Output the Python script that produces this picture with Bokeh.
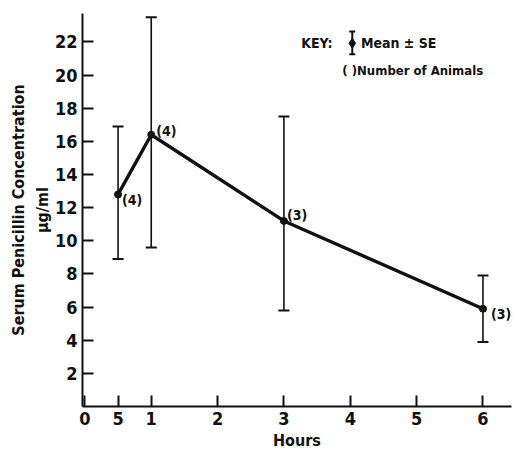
from bokeh.plotting import figure
from bokeh.models import ColumnDataSource, Whisker, FixedTicker, Label, Range1d, LinearAxis
from bokeh.core.properties import value
from bokeh.embed import file_html
from bokeh.resources import INLINE

# ---- data ----
hours = [0.5, 1, 3, 6]
mean = [12.8, 16.4, 11.2, 5.9]
upper = [16.9, 23.5, 17.5, 7.9]
lower = [8.9, 9.6, 5.8, 3.9]
n_animals = ["(4)", "(4)", "(3)", "(3)"]

x_ticks = [0, 0.5, 1, 2, 3, 4, 5, 6]
x_tick_labels = ["0", "5", "1", "2", "3", "4", "5", "6"]
y_ticks = [2, 4, 6, 8, 10, 12, 14, 16, 18, 20, 22]

FONT = "DejaVu Sans Condensed"
INK = "#111111"

p = figure(width=516, height=452, output_backend="svg", toolbar_location=None,
           x_range=Range1d(-0.036, 6.43), y_range=Range1d(0, 23.72),
           min_border_left=82, min_border_right=5, min_border_top=13,
           min_border_bottom=44)
p.outline_line_color = None
p.xgrid.visible = False
p.ygrid.visible = False
p.background_fill_color = "white"
p.border_fill_color = "white"

for ax in (p.xaxis[0], p.yaxis[0]):
    ax.axis_line_color = INK
    ax.axis_line_width = 2
    ax.major_tick_line_color = INK
    ax.major_tick_line_width = 2
    ax.major_tick_in = 11
    ax.major_tick_out = 0
    ax.minor_tick_line_color = None
    ax.major_label_text_font = FONT
    ax.major_label_text_font_style = "bold"
    ax.major_label_text_font_size = "18px"
    ax.major_label_text_color = INK
    ax.axis_label_text_font = FONT
    ax.axis_label_text_font_style = "bold"
    ax.axis_label_text_font_size = "16px"
    ax.axis_label_text_color = INK

p.xaxis.ticker = FixedTicker(ticks=x_ticks)
p.xaxis.major_label_overrides = {t: s for t, s in zip(x_ticks, x_tick_labels)}
p.xaxis.major_label_standoff = 5
p.xaxis.axis_label = "Hours"
p.xaxis.axis_label_standoff = 3
p.yaxis.ticker = FixedTicker(ticks=y_ticks)
p.yaxis.major_label_standoff = 5
p.yaxis.axis_label = "µg/ml"
p.yaxis.axis_label_standoff = 0

title_axis = LinearAxis(ticker=FixedTicker(ticks=[]), axis_line_color=None,
                        major_tick_line_color=None, minor_tick_line_color=None,
                        axis_label="Serum Penicillin Concentration",
                        axis_label_text_font=FONT, axis_label_text_font_style="bold",
                        axis_label_text_font_size="16px", axis_label_text_color=INK,
                        axis_label_standoff=2)
p.add_layout(title_axis, "left")

src = ColumnDataSource(dict(x=hours, y=mean, up=upper, lo=lower, n=n_animals,
                            dx=[4, 5, 3, 8], dy=[6, -4, -6, 5]))

w = Whisker(base="x", upper="up", lower="lo", source=src, dimension="height",
            line_color=INK, line_width=1.6)
for h in (w.upper_head, w.lower_head):
    h.size = 11
    h.line_color = INK
    h.line_width = 2
p.add_layout(w)

p.line("x", "y", source=src, line_color=INK, line_width=3.4)
p.scatter("x", "y", source=src, size=7, color=INK)

p.text("x", "y", text="n", source=src, x_offset="dx", y_offset="dy",
       text_font=value(FONT), text_font_style="bold", text_font_size="14px",
       text_color=INK, text_baseline="middle", text_align="left")

# key (drawn by hand, as in the original)
p.add_layout(Label(x=3.26, y=21.92, text="KEY:", text_font=FONT,
                   text_font_style="bold", text_font_size="14px", text_color=INK,
                   text_baseline="middle"))
p.segment(x0=[4.03], y0=[21.26], x1=[4.03], y1=[22.64], line_color=INK, line_width=2)
p.segment(x0=[3.985, 3.985], y0=[21.26, 22.64], x1=[4.075, 4.075], y1=[21.26, 22.64],
          line_color=INK, line_width=2)
p.scatter(x=[4.03], y=[21.92], marker="diamond", size=10, color=INK)
p.add_layout(Label(x=4.16, y=21.92, text="Mean ± SE", text_font=FONT,
                   text_font_style="bold", text_font_size="14px", text_color=INK,
                   text_baseline="middle"))
p.add_layout(Label(x=3.88, y=20.26, text="( )Number of Animals", text_font=FONT,
                   text_font_style="bold", text_font_size="13px", text_color=INK,
                   text_baseline="middle"))

open("out.html", "w").write(file_html(p, INLINE))
